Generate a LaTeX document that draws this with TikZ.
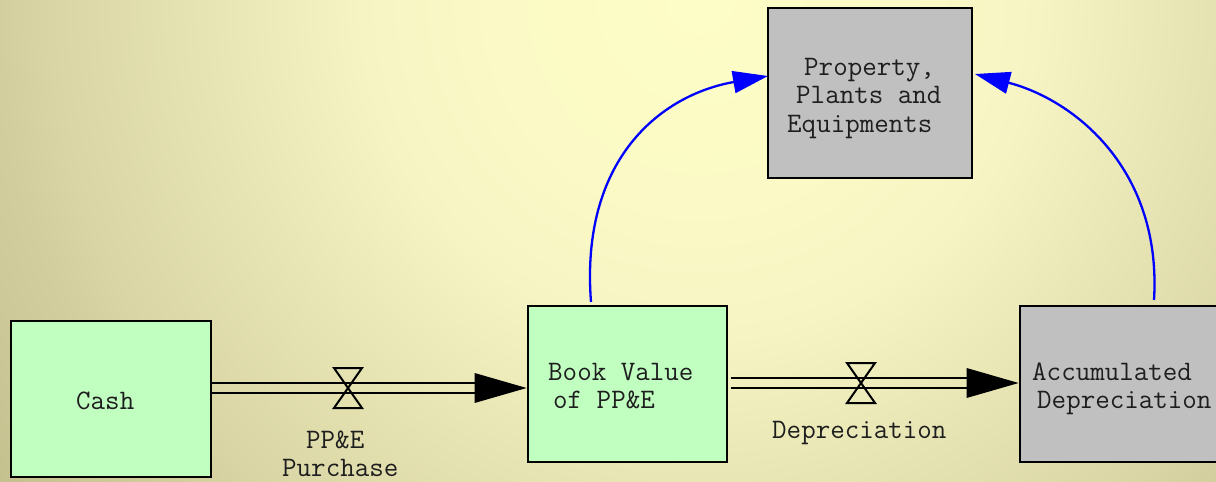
\documentclass[tikz,border=0pt]{standalone}
\usepackage{fontspec}
\usetikzlibrary{arrows.meta}
\definecolor{bg0}{HTML}{FDFDC7}
\definecolor{bg1}{HTML}{FBFAC6}
\definecolor{bg2}{HTML}{F6F4C3}
\definecolor{bg3}{HTML}{D9D5A4}
\definecolor{bg4}{HTML}{D2CE9E}
\definecolor{bg5}{HTML}{C4C08E}
\definecolor{stockg}{HTML}{C0FFC0}
\definecolor{stockgray}{HTML}{C0C0C0}
\definecolor{txt}{HTML}{1E1E1E}
\definecolor{linkblue}{HTML}{0000FF}
\pgfdeclareradialshading{bgshade}{\pgfpoint{0bp}{0bp}}{color(0bp)=(bg0); color(4bp)=(bg1); color(6.5bp)=(bg2); color(12.5bp)=(bg3); color(13.5bp)=(bg4); color(16.5bp)=(bg5); color(50bp)=(bg5)}
\tikzset{
  stock/.style={draw=black, line width=2.8pt, rectangle, inner sep=0pt},
  lbl/.style={font=\ttfamily\fontsize{28.2}{28}\selectfont, text=txt, inner sep=0pt, anchor=base west},
  pipe/.style={line width=2.6pt, black},
  valve/.style={line width=2pt, black, line join=miter},
  link/.style={linkblue, line width=2.3pt, -{Triangle[length=35pt,width=22pt]}},
}
\begin{document}
\begin{tikzpicture}[x=1pt,y=-1pt]
\useasboundingbox (0,0) rectangle (1216,482);
\begin{scope}
\clip (0,0) rectangle (1216,482);
\shade[shading=bgshade] (700,0) circle (1300);
\end{scope}
% stocks
\node[stock, fill=stockg, minimum width=200pt, minimum height=156pt] (cash) at (111,399) {};
\node[stock, fill=stockg, minimum width=199pt, minimum height=156pt] (book) at (627.5,384) {};
\node[stock, fill=stockgray, minimum width=204pt, minimum height=170pt] (ppe) at (870,93) {};
\node[stock, fill=stockgray, minimum width=210pt, minimum height=156pt] (acc) at (1125,384) {};
% texts
\node[lbl] (tcash) at (76,409) {Cash};
\node[lbl] (tbook1) at (548,380) {Book Value};
\node[lbl] (tbook2) at (553,408) {of PP\&E};
\node[lbl] (tppe1) at (804,75) {Property,};
\node[lbl] (tppe2) at (796,103) {Plants and};
\node[lbl] (tppe3) at (787,132) {Equipments};
\node[lbl] (tacc1) at (1032,380) {Accumulated};
\node[lbl] (tacc2) at (1037,408) {Depreciation};
\node[lbl] (tdep) at (772,438) {Depreciation};
\node[lbl] (tpur1) at (306,448) {PP\&E};
\node[lbl] (tpur2) at (282,476) {Purchase};
% flow 1
\coordinate (v1) at (348,388);
\draw[pipe] (cash.east |- 0,383) -- ([xshift=-50pt]book.west |- 0,383);
\draw[pipe] (cash.east |- 0,393) -- ([xshift=-50pt]book.west |- 0,393);
\fill[black] (book.west |- v1) -- ++(-52,-15) -- ++(0,30) -- cycle;
\draw[valve] ([shift={(-14,-20)}]v1) -- ([shift={(14,-20)}]v1) -- ([shift={(-14,20)}]v1) -- ([shift={(14,20)}]v1) -- cycle;
% flow 2
\coordinate (v2) at (861,383);
\coordinate (p2s) at (731,383);
\draw[pipe] (p2s |- 0,378) -- ([xshift=-50pt]acc.west |- 0,378);
\draw[pipe] (p2s |- 0,388) -- ([xshift=-50pt]acc.west |- 0,388);
\fill[black] (acc.west |- v2) -- ++(-52,-15) -- ++(0,30) -- cycle;
\draw[valve] ([shift={(-14,-20)}]v2) -- ([shift={(14,-20)}]v2) -- ([shift={(-14,20)}]v2) -- ([shift={(14,20)}]v2) -- cycle;
% links
\coordinate (l1s) at (591,302);
\coordinate (l1e) at (768,76);
\draw[link] (l1s) .. controls (580,160) and (660,95) .. (l1e);
\coordinate (l2s) at (1154,300);
\coordinate (l2e) at (975,74);
\draw[link] (l2s) .. controls (1162,170) and (1075,100) .. (l2e);
\end{tikzpicture}
\end{document}
